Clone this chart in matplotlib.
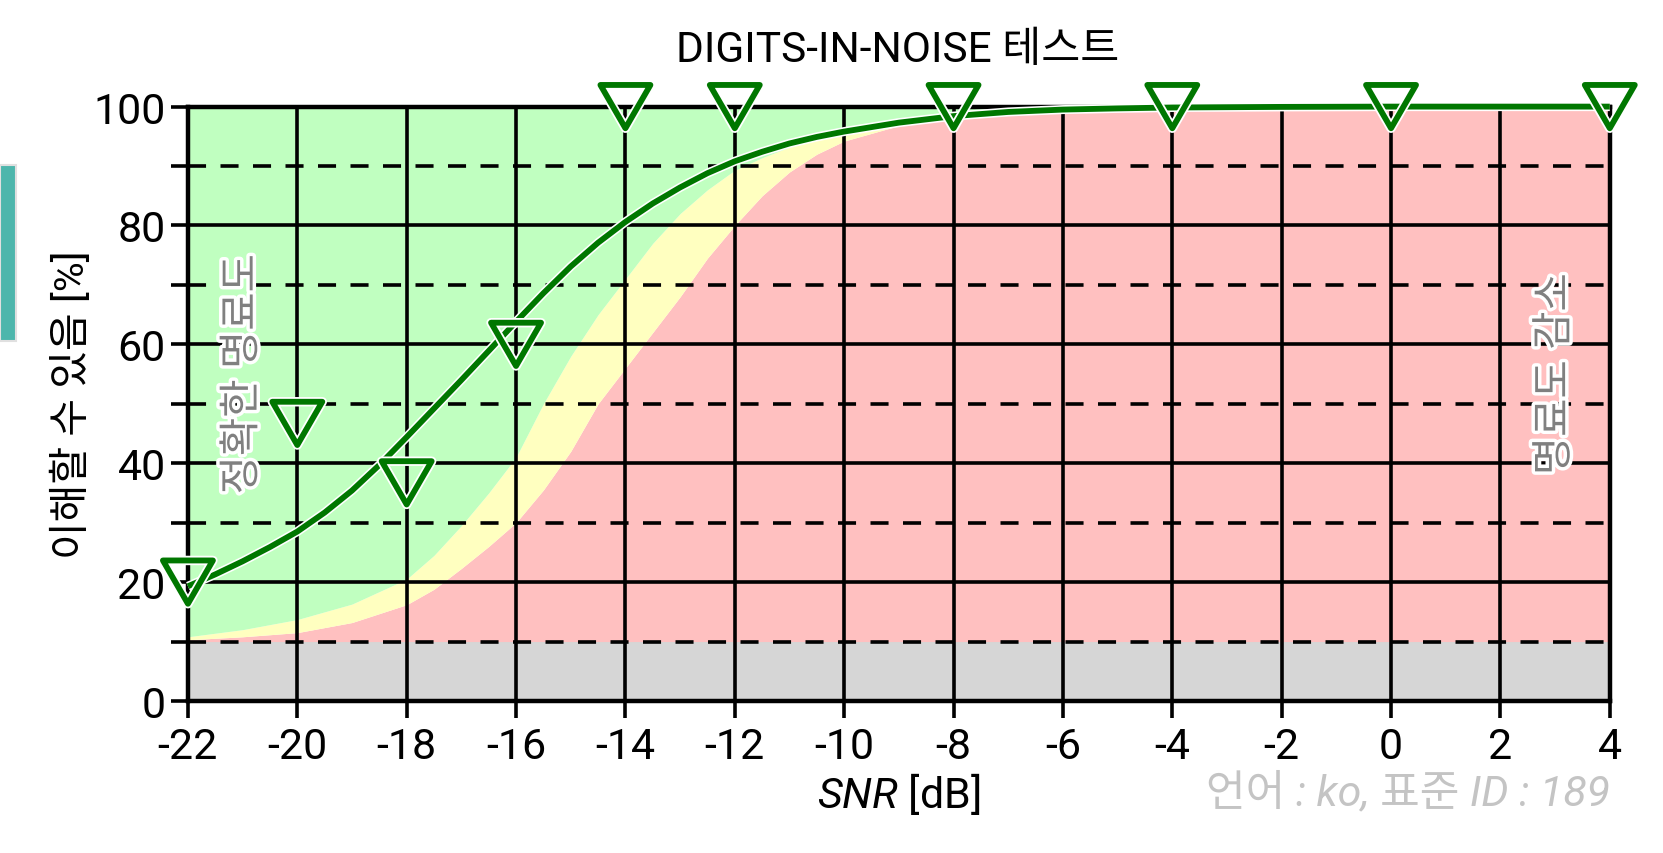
import matplotlib
matplotlib.use("Agg")
import matplotlib.pyplot as plt
import matplotlib.patheffects as pe
from matplotlib.path import Path
from matplotlib.patches import Rectangle

plt.rcParams['font.family'] = ['Roboto', 'Noto Sans CJK KR', 'DejaVu Sans']
plt.rcParams['mathtext.fontset'] = 'custom'
plt.rcParams['mathtext.it'] = 'Roboto:italic'
plt.rcParams['mathtext.rm'] = 'Roboto'

# measured points
snr_points = [-22, -20, -18, -16, -14, -12, -8, -4, 0, 4]
pct_points = [20, 46.7, 36.7, 60, 100, 100, 100, 100, 100, 100]

# fitted curve
curve_x = [-22, -21.5, -21, -20.5, -20, -19.5, -19, -18.5, -18, -17.5, -17, -16.5, -16,
           -15.5, -15, -14.5, -14, -13.5, -13, -12.5, -12, -11.5, -11, -10.5, -10,
           -9, -8, -7, -6, -5, -4, -2, 0, 2, 4]
curve_y = [19.3, 21.3, 23.5, 25.9, 28.5, 31.7, 35.4, 39.7, 44.4, 49.2, 54.0, 58.9, 63.8,
           68.6, 73.1, 77.1, 80.6, 83.7, 86.4, 88.8, 90.8, 92.4, 93.8, 94.9, 95.8,
           97.3, 98.4, 99.1, 99.5, 99.7, 99.85, 99.95, 100, 100, 100]

# band boundaries
band_x = [-22, -21, -20, -19, -18, -17.5, -17, -16.5, -16, -15.5, -15, -14.5, -14,
          -13.5, -13, -12.5, -12, -11.5, -11, -10.5, -10, -9, -8, -7, -6, -4, 0, 4]
yellow_top = [10.8, 12.0, 13.7, 16.3, 20.5, 24.5, 29.5, 35.0, 41.0, 50.0, 58.0, 65.0, 71.0,
              77.0, 82.0, 86.0, 89.3, 91.4, 93.2, 94.5, 95.5, 97.3, 98.5, 99.2, 99.6, 99.9, 100, 100]
red_top = [10.3, 10.8, 11.5, 13.2, 16.2, 18.8, 22.3, 26.0, 30.0, 35.5, 42.0, 50.0, 56.0,
           62.0, 68.0, 74.5, 80.0, 85.0, 89.0, 92.0, 94.2, 96.8, 98.2, 99.0, 99.5, 99.9, 100, 100]
floor_level = 10

x_ticks = list(range(-22, 5, 2))
y_major = [0, 20, 40, 60, 80, 100]
y_minor = [10, 30, 50, 70, 90]

fig = plt.figure(figsize=(16.63, 8.54), dpi=100)
ax = fig.add_axes([0.113, 0.178, 0.855, 0.696])

# coloured zones
ax.axhspan(0, floor_level, color='#d6d6d6', lw=0, zorder=1)
ax.fill_between(band_x, floor_level, red_top, color='#ffc0c0', lw=0, zorder=1)
ax.fill_between(band_x, red_top, yellow_top, color='#ffffc0', lw=0, zorder=1)
ax.fill_between(band_x, yellow_top, 100, color='#c0ffc0', lw=0, zorder=1)

ax.set_xlim(-22, 4)
ax.set_ylim(0, 100)
ax.set_xticks(x_ticks)
ax.set_xticklabels([str(t) for t in x_ticks])
ax.set_yticks(y_major)
ax.set_yticks(y_minor, minor=True)
ax.tick_params(axis='both', which='both', direction='out', length=12, width=2.6,
               labelsize=31, color='black')
ax.tick_params(axis='x', pad=6)
ax.tick_params(axis='y', pad=4)

ax.grid(True, axis='x', which='major', color='black', lw=2.6)
ax.grid(True, axis='y', which='major', color='black', lw=2.6)
ax.grid(True, axis='y', which='minor', color='black', lw=2.6, dashes=(5, 4))
for s in ax.spines.values():
    s.set_linewidth(3.2)
    s.set_color('black')

outline = [pe.Stroke(linewidth=6.5, foreground='white'), pe.Normal()]
ax.plot(curve_x, curve_y, color='#007700', lw=4.2, zorder=3, path_effects=outline,
        clip_on=False, solid_capstyle='butt', solid_joinstyle='round')

tri = Path([(-1, 0.866), (1, 0.866), (0, -0.866), (-1, 0.866)],
           [Path.MOVETO, Path.LINETO, Path.LINETO, Path.CLOSEPOLY])
ax.plot(snr_points, pct_points, ls='none', marker=tri, markersize=36, mew=4.2,
        mfc='none', mec='#007700', zorder=4, clip_on=False,
        path_effects=[pe.Stroke(linewidth=6.8, foreground='white'), pe.Normal()])

txt_fx = [pe.withStroke(linewidth=5, foreground='white')]
ax.text(-21.0, 55, '정확한 명료도', rotation=90, ha='center', va='center', fontsize=30,
        color='#808080', zorder=5, path_effects=txt_fx)
ax.text(3.0, 55, '명료도 감소', rotation=90, ha='center', va='center', fontsize=30,
        color='#808080', zorder=5, path_effects=txt_fx)

fig.text(0.54, 0.941, 'DIGITS-IN-NOISE 테스트', ha='center', va='center', fontsize=30.5)
ax.set_xlabel(r'$\mathit{SNR}$ [dB]', fontsize=31, labelpad=2)
ax.set_ylabel('이해할 수 있음 [%]', fontsize=29.5, labelpad=1)
fig.text(0.968, 0.071, '언어 : ko, 표준 ID : 189', ha='right', va='center', fontsize=31,
         style='italic', color='#c4c4c4')

# teal tab at the left edge
fig.patches.append(Rectangle((0, 0.6), 0.0096, 0.206, transform=fig.transFigure,
                             facecolor='#4db6ac', edgecolor='#e0e0e0', lw=1.5))

fig.savefig('out.png', dpi=100)
